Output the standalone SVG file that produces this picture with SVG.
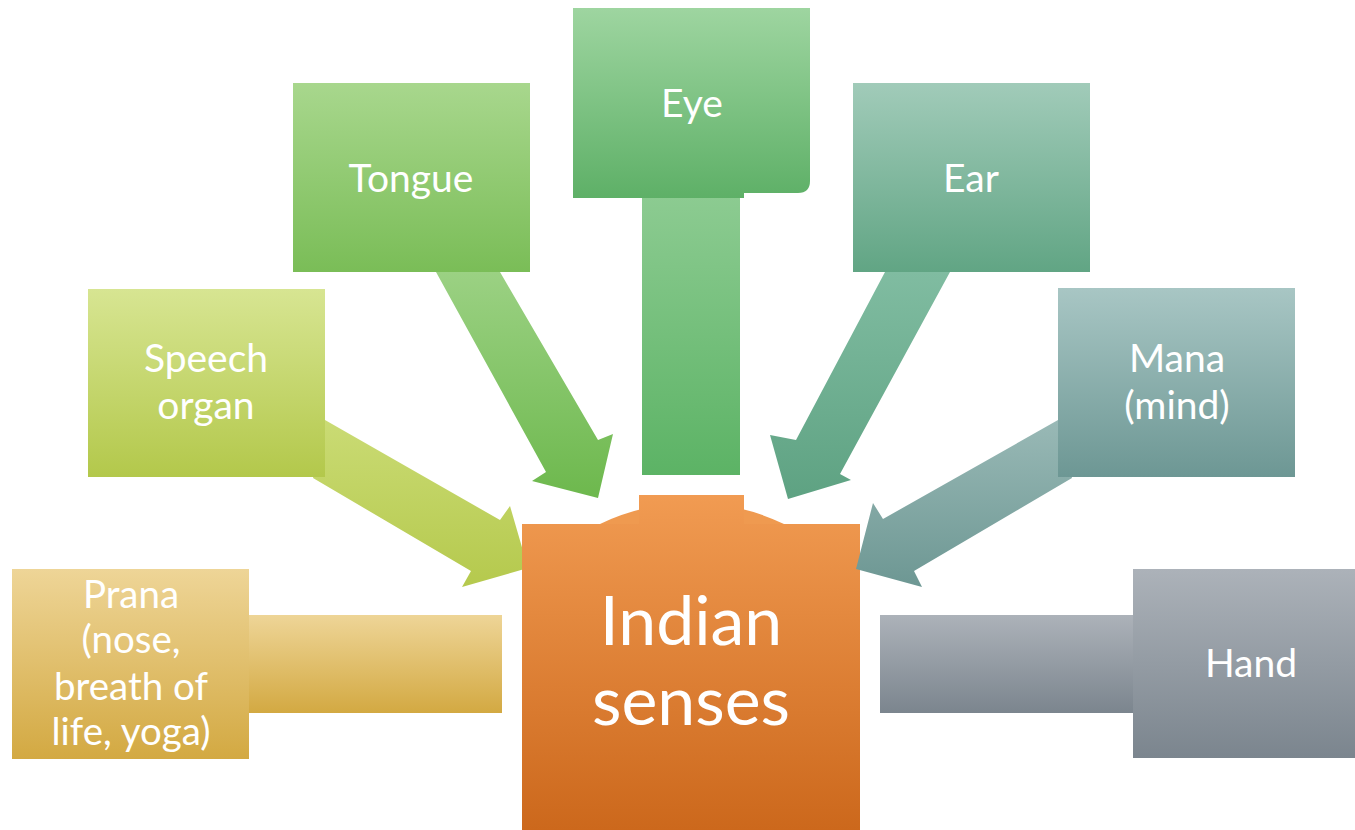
<svg xmlns="http://www.w3.org/2000/svg" width="1355" height="830" viewBox="0 0 1355 830">
<defs>
<linearGradient id="gTongue" x1="0" y1="0" x2="0" y2="1"><stop offset="0" stop-color="#a8d78d"/><stop offset="1" stop-color="#7abd57"/></linearGradient>
<linearGradient id="gTongueA" x1="0" y1="0" x2="0" y2="1"><stop offset="0" stop-color="#9bd183"/><stop offset="1" stop-color="#6db84d"/></linearGradient>
<linearGradient id="gEye" x1="0" y1="0" x2="0" y2="1"><stop offset="0" stop-color="#9ed5a0"/><stop offset="1" stop-color="#5eb067"/></linearGradient>
<linearGradient id="gEyeA" x1="0" y1="0" x2="0" y2="1"><stop offset="0" stop-color="#8ccb91"/><stop offset="1" stop-color="#5cb365"/></linearGradient>
<linearGradient id="gEar" x1="0" y1="0" x2="0" y2="1"><stop offset="0" stop-color="#a1cbb9"/><stop offset="1" stop-color="#61a584"/></linearGradient>
<linearGradient id="gEarA" x1="0" y1="0" x2="0" y2="1"><stop offset="0" stop-color="#80bca1"/><stop offset="1" stop-color="#5ea282"/></linearGradient>
<linearGradient id="gSpeech" x1="0" y1="0" x2="0" y2="1"><stop offset="0" stop-color="#d7e592"/><stop offset="1" stop-color="#b3c84b"/></linearGradient>
<linearGradient id="gSpeechA" x1="0" y1="0" x2="0" y2="1"><stop offset="0" stop-color="#cadb74"/><stop offset="1" stop-color="#b5c94d"/></linearGradient>
<linearGradient id="gMana" x1="0" y1="0" x2="0" y2="1"><stop offset="0" stop-color="#a8c6c4"/><stop offset="1" stop-color="#6d9794"/></linearGradient>
<linearGradient id="gManaA" x1="0" y1="0" x2="0" y2="1"><stop offset="0" stop-color="#99b9b6"/><stop offset="1" stop-color="#6d9793"/></linearGradient>
<linearGradient id="gPrana" x1="0" y1="0" x2="0" y2="1"><stop offset="0" stop-color="#eed597"/><stop offset="1" stop-color="#d3a942"/></linearGradient>
<linearGradient id="gHand" x1="0" y1="0" x2="0" y2="1"><stop offset="0" stop-color="#acb2b9"/><stop offset="1" stop-color="#7b858e"/></linearGradient>
<linearGradient id="gCenter" gradientUnits="userSpaceOnUse" x1="0" y1="495" x2="0" y2="830"><stop offset="0" stop-color="#f19b52"/><stop offset="1" stop-color="#cc681c"/></linearGradient>
</defs>
<style>
text{font-family:Lato,"Open Sans","Liberation Sans",sans-serif;fill:#ffffff;text-anchor:middle}
.lbl{font-size:39px}
.sm{font-size:38.5px}
.big{font-size:68px}
</style>
<rect width="1355" height="830" fill="#ffffff"/>
<g id="connectors">
<polygon points="436,272 500,272 598,440 613,434 598,498 532,481 546,472" fill="url(#gTongueA)"/>
<polygon points="885,272 950,272 840,474 851,480 788,499 770,435 796,440" fill="url(#gEarA)"/>
<rect x="642" y="197" width="98" height="278" fill="url(#gEyeA)"/>
<polygon points="325,420 500,520 510,506 528,568 462,587 471,571 313,478" fill="url(#gSpeechA)"/>
<rect x="249" y="615" width="253" height="98" fill="url(#gPrana)"/>
<rect x="880" y="615" width="253" height="98" fill="url(#gHand)"/>
</g>
<g id="node-center">
<path d="M600,524 A212,212 0 0 1 784,524 Z" fill="#ef9a50"/>
<rect x="639" y="495" width="105" height="30" fill="url(#gCenter)"/>
<rect x="522" y="524" width="338" height="306" fill="url(#gCenter)"/>
<text class="big" x="691" y="645">Indian</text>
<text class="big" x="691" y="725">senses</text>
</g>
<g id="connector-mana">
<polygon points="1058,420 883,519 873,503 856,569 922,587 914,571 1072,478" fill="url(#gManaA)"/>
</g>
<g id="node-tongue">
<rect x="293" y="83" width="237" height="189" fill="url(#gTongue)"/>
<text class="lbl" x="411" y="192">Tongue</text>
</g>
<g id="node-eye">
<path d="M573,8 H810 V181 Q810,193 798,193 H744 V198 H573 Z" fill="url(#gEye)"/>
<text class="lbl" x="692" y="117">Eye</text>
</g>
<g id="node-ear">
<rect x="853" y="83" width="237" height="189" fill="url(#gEar)"/>
<text class="lbl" x="971" y="192">Ear</text>
</g>
<g id="node-speech">
<rect x="88" y="289" width="237" height="188" fill="url(#gSpeech)"/>
<text class="lbl" x="206" y="372">Speech</text>
<text class="lbl" x="206" y="419">organ</text>
</g>
<g id="node-mana">
<rect x="1058" y="288" width="237" height="189" fill="url(#gMana)"/>
<text class="lbl" x="1177" y="372">Mana</text>
<text class="lbl" x="1177" y="419">(mind)</text>
</g>
<g id="node-prana">
<rect x="12" y="569" width="237" height="190" fill="url(#gPrana)"/>
<text class="sm" x="131" y="608">Prana</text>
<text class="sm" x="131" y="653">(nose,</text>
<text class="sm" x="131" y="700">breath of</text>
<text class="sm" x="131" y="745">life, yoga)</text>
</g>
<g id="node-hand">
<rect x="1133" y="569" width="222" height="189" fill="url(#gHand)"/>
<text class="lbl" x="1251" y="677">Hand</text>
</g>
</svg>
